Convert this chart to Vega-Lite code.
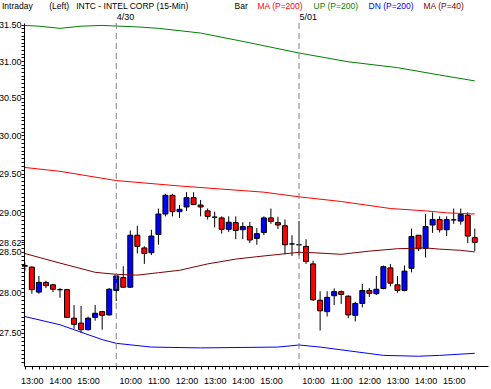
{
  "$schema": "https://vega.github.io/schema/vega-lite/v6.json",
  "width": 464,
  "height": 343,
  "autosize": "none",
  "padding": {"left": 24, "top": 23, "right": 3, "bottom": 23},
  "background": "white",
  "view": {"stroke": null},
  "config": {
    "font": "Liberation Sans",
    "axis": {"labelFont": "Liberation Sans", "labelFontSize": 9, "labelColor": "black", "domainColor": "black", "tickColor": "black", "grid": false}
  },
  "title": {
    "text": "Intraday\u00a0\u00a0\u00a0\u00a0\u00a0\u00a0\u00a0(Left)\u00a0\u00a0\u00a0INTC - INTEL CORP\u00a0(15-Min)",
    "anchor": "start", "frame": "group", "dx": -22, "fontSize": 8.5, "fontWeight": "normal", "font": "Liberation Sans", "color": "black", "offset": -8
  },
  "datasets": {
    "candles": [
      {"t": "04-29 12:45", "open": 28.33, "high": 28.36, "low": 28.26, "close": 28.32},
      {"t": "04-29 13:00", "open": 28.31, "high": 28.32, "low": 27.98, "close": 28.03},
      {"t": "04-29 13:15", "open": 28.00, "high": 28.20, "low": 27.98, "close": 28.12},
      {"t": "04-29 13:30", "open": 28.12, "high": 28.14, "low": 28.05, "close": 28.08},
      {"t": "04-29 13:45", "open": 28.09, "high": 28.10, "low": 28.00, "close": 28.035},
      {"t": "04-29 14:00", "open": 28.03, "high": 28.05, "low": 27.93, "close": 28.03},
      {"t": "04-29 14:15", "open": 28.03, "high": 28.04, "low": 27.69, "close": 27.69},
      {"t": "04-29 14:30", "open": 27.68, "high": 27.84, "low": 27.55, "close": 27.605},
      {"t": "04-29 14:45", "open": 27.62, "high": 27.83, "low": 27.50, "close": 27.54},
      {"t": "04-29 15:00", "open": 27.54, "high": 27.70, "low": 27.53, "close": 27.68},
      {"t": "04-29 15:15", "open": 27.69, "high": 27.84, "low": 27.65, "close": 27.74},
      {"t": "04-29 15:30", "open": 27.76, "high": 27.76, "low": 27.54, "close": 27.715},
      {"t": "04-29 15:45", "open": 27.72, "high": 28.05, "low": 27.71, "close": 28.035},
      {"t": "04-30 09:30", "open": 28.02, "high": 28.21, "low": 27.89, "close": 28.20},
      {"t": "04-30 09:45", "open": 28.18, "high": 28.32, "low": 28.05, "close": 28.06},
      {"t": "04-30 10:00", "open": 28.06, "high": 28.77, "low": 28.05, "close": 28.71},
      {"t": "04-30 10:15", "open": 28.71, "high": 28.83, "low": 28.48, "close": 28.57},
      {"t": "04-30 10:30", "open": 28.55, "high": 28.57, "low": 28.35, "close": 28.48},
      {"t": "04-30 10:45", "open": 28.49, "high": 28.78, "low": 28.46, "close": 28.70},
      {"t": "04-30 11:00", "open": 28.72, "high": 29.05, "low": 28.59, "close": 28.98},
      {"t": "04-30 11:15", "open": 28.98, "high": 29.24, "low": 28.95, "close": 29.22},
      {"t": "04-30 11:30", "open": 29.22, "high": 29.24, "low": 28.95, "close": 29.01},
      {"t": "04-30 11:45", "open": 29.01, "high": 29.095, "low": 28.93, "close": 29.04},
      {"t": "04-30 12:00", "open": 29.07, "high": 29.26, "low": 29.02, "close": 29.19},
      {"t": "04-30 12:15", "open": 29.19, "high": 29.26, "low": 29.095, "close": 29.10},
      {"t": "04-30 12:30", "open": 29.095, "high": 29.16, "low": 28.95, "close": 29.07},
      {"t": "04-30 12:45", "open": 29.02, "high": 29.05, "low": 28.91, "close": 28.95},
      {"t": "04-30 13:00", "open": 28.94, "high": 29.01, "low": 28.81, "close": 28.94},
      {"t": "04-30 13:15", "open": 28.93, "high": 28.95, "low": 28.73, "close": 28.785},
      {"t": "04-30 13:30", "open": 28.785, "high": 28.95, "low": 28.75, "close": 28.875},
      {"t": "04-30 13:45", "open": 28.87, "high": 28.95, "low": 28.66, "close": 28.77},
      {"t": "04-30 14:00", "open": 28.78, "high": 28.875, "low": 28.66, "close": 28.82},
      {"t": "04-30 14:15", "open": 28.82, "high": 28.88, "low": 28.61, "close": 28.65},
      {"t": "04-30 14:30", "open": 28.67, "high": 28.80, "low": 28.59, "close": 28.73},
      {"t": "04-30 14:45", "open": 28.745, "high": 28.95, "low": 28.71, "close": 28.93},
      {"t": "04-30 15:00", "open": 28.93, "high": 29.05, "low": 28.855, "close": 28.885},
      {"t": "04-30 15:15", "open": 28.87, "high": 28.945, "low": 28.79, "close": 28.84},
      {"t": "04-30 15:30", "open": 28.83, "high": 28.91, "low": 28.47, "close": 28.59},
      {"t": "04-30 15:45", "open": 28.60, "high": 28.71, "low": 28.45, "close": 28.60},
      {"t": "05-01 09:30", "open": 28.59, "high": 28.89, "low": 28.455, "close": 28.59},
      {"t": "05-01 09:45", "open": 28.57, "high": 28.66, "low": 28.35, "close": 28.38},
      {"t": "05-01 10:00", "open": 28.35, "high": 28.39, "low": 27.89, "close": 27.905},
      {"t": "05-01 10:15", "open": 27.90, "high": 28.01, "low": 27.53, "close": 27.77},
      {"t": "05-01 10:30", "open": 27.76, "high": 28.01, "low": 27.70, "close": 27.935},
      {"t": "05-01 10:45", "open": 27.955, "high": 28.045, "low": 27.84, "close": 28.005},
      {"t": "05-01 11:00", "open": 28.005, "high": 28.02, "low": 27.855, "close": 27.97},
      {"t": "05-01 11:15", "open": 27.95, "high": 27.96, "low": 27.68, "close": 27.72},
      {"t": "05-01 11:30", "open": 27.715, "high": 27.88, "low": 27.64, "close": 27.86},
      {"t": "05-01 11:45", "open": 27.86, "high": 28.10, "low": 27.81, "close": 28.02},
      {"t": "05-01 12:00", "open": 28.02, "high": 28.05, "low": 27.94, "close": 27.985},
      {"t": "05-01 12:15", "open": 27.98, "high": 28.20, "low": 27.965, "close": 28.035},
      {"t": "05-01 12:30", "open": 28.045, "high": 28.33, "low": 28.035, "close": 28.315},
      {"t": "05-01 12:45", "open": 28.30, "high": 28.35, "low": 28.07, "close": 28.11},
      {"t": "05-01 13:00", "open": 28.09, "high": 28.20, "low": 27.99, "close": 28.02},
      {"t": "05-01 13:15", "open": 28.02, "high": 28.33, "low": 28.01, "close": 28.26},
      {"t": "05-01 13:30", "open": 28.295, "high": 28.795, "low": 28.245, "close": 28.695},
      {"t": "05-01 13:45", "open": 28.71, "high": 28.71, "low": 28.51, "close": 28.54},
      {"t": "05-01 14:00", "open": 28.545, "high": 28.98, "low": 28.43, "close": 28.82},
      {"t": "05-01 14:15", "open": 28.84, "high": 29.00, "low": 28.74, "close": 28.91},
      {"t": "05-01 14:30", "open": 28.91, "high": 28.95, "low": 28.745, "close": 28.78},
      {"t": "05-01 14:45", "open": 28.78, "high": 28.95, "low": 28.70, "close": 28.91},
      {"t": "05-01 15:00", "open": 28.905, "high": 29.05, "low": 28.855, "close": 28.905},
      {"t": "05-01 15:15", "open": 28.89, "high": 29.05, "low": 28.845, "close": 28.975},
      {"t": "05-01 15:30", "open": 28.965, "high": 29.00, "low": 28.61, "close": 28.70},
      {"t": "05-01 15:45", "open": 28.68, "high": 28.795, "low": 28.51, "close": 28.62}
    ],
    "lines": [
      {"series": "MA (P=200)", "t": "04-29 12:45", "v": 29.58},
      {"series": "MA (P=200)", "t": "04-29 14:00", "v": 29.53},
      {"series": "MA (P=200)", "t": "04-30 09:30", "v": 29.41},
      {"series": "MA (P=200)", "t": "04-30 11:45", "v": 29.34},
      {"series": "MA (P=200)", "t": "04-30 14:45", "v": 29.26},
      {"series": "MA (P=200)", "t": "05-01 09:30", "v": 29.20},
      {"series": "MA (P=200)", "t": "05-01 11:00", "v": 29.14},
      {"series": "MA (P=200)", "t": "05-01 12:45", "v": 29.05},
      {"series": "MA (P=200)", "t": "05-01 14:00", "v": 29.02},
      {"series": "MA (P=200)", "t": "05-01 14:45", "v": 28.995},
      {"series": "MA (P=200)", "t": "05-01 15:45", "v": 28.98},
      {"series": "UP (P=200)", "t": "04-29 12:45", "v": 31.49},
      {"series": "UP (P=200)", "t": "04-29 13:15", "v": 31.48},
      {"series": "UP (P=200)", "t": "04-29 14:00", "v": 31.45},
      {"series": "UP (P=200)", "t": "04-29 14:45", "v": 31.48},
      {"series": "UP (P=200)", "t": "04-29 15:30", "v": 31.49},
      {"series": "UP (P=200)", "t": "04-30 10:15", "v": 31.47},
      {"series": "UP (P=200)", "t": "04-30 11:00", "v": 31.45},
      {"series": "UP (P=200)", "t": "04-30 12:30", "v": 31.385},
      {"series": "UP (P=200)", "t": "04-30 14:15", "v": 31.25},
      {"series": "UP (P=200)", "t": "05-01 09:30", "v": 31.11},
      {"series": "UP (P=200)", "t": "05-01 11:15", "v": 30.99},
      {"series": "UP (P=200)", "t": "05-01 13:00", "v": 30.91},
      {"series": "UP (P=200)", "t": "05-01 14:30", "v": 30.81},
      {"series": "UP (P=200)", "t": "05-01 15:45", "v": 30.73},
      {"series": "DN (P=200)", "t": "04-29 12:45", "v": 27.70},
      {"series": "DN (P=200)", "t": "04-29 14:00", "v": 27.60},
      {"series": "DN (P=200)", "t": "04-29 15:00", "v": 27.48},
      {"series": "DN (P=200)", "t": "04-29 15:30", "v": 27.42},
      {"series": "DN (P=200)", "t": "04-30 09:30", "v": 27.375},
      {"series": "DN (P=200)", "t": "04-30 10:45", "v": 27.33},
      {"series": "DN (P=200)", "t": "04-30 12:30", "v": 27.32},
      {"series": "DN (P=200)", "t": "04-30 15:15", "v": 27.33},
      {"series": "DN (P=200)", "t": "05-01 09:30", "v": 27.355},
      {"series": "DN (P=200)", "t": "05-01 10:15", "v": 27.33},
      {"series": "DN (P=200)", "t": "05-01 12:30", "v": 27.23},
      {"series": "DN (P=200)", "t": "05-01 13:45", "v": 27.22},
      {"series": "DN (P=200)", "t": "05-01 14:30", "v": 27.23},
      {"series": "DN (P=200)", "t": "05-01 15:45", "v": 27.255},
      {"series": "MA (P=40)", "t": "04-29 12:45", "v": 28.48},
      {"series": "MA (P=40)", "t": "04-29 14:00", "v": 28.36},
      {"series": "MA (P=40)", "t": "04-29 15:15", "v": 28.245},
      {"series": "MA (P=40)", "t": "04-30 09:30", "v": 28.22},
      {"series": "MA (P=40)", "t": "04-30 10:15", "v": 28.21},
      {"series": "MA (P=40)", "t": "04-30 11:00", "v": 28.24},
      {"series": "MA (P=40)", "t": "04-30 11:45", "v": 28.27},
      {"series": "MA (P=40)", "t": "04-30 12:45", "v": 28.35},
      {"series": "MA (P=40)", "t": "04-30 13:45", "v": 28.41},
      {"series": "MA (P=40)", "t": "04-30 14:30", "v": 28.44},
      {"series": "MA (P=40)", "t": "05-01 09:30", "v": 28.495},
      {"series": "MA (P=40)", "t": "05-01 10:00", "v": 28.49},
      {"series": "MA (P=40)", "t": "05-01 11:00", "v": 28.47},
      {"series": "MA (P=40)", "t": "05-01 12:00", "v": 28.51},
      {"series": "MA (P=40)", "t": "05-01 13:00", "v": 28.54},
      {"series": "MA (P=40)", "t": "05-01 14:00", "v": 28.55},
      {"series": "MA (P=40)", "t": "05-01 14:30", "v": 28.535},
      {"series": "MA (P=40)", "t": "05-01 15:15", "v": 28.52},
      {"series": "MA (P=40)", "t": "05-01 15:45", "v": 28.50}
    ]
  },
  "resolve": {"axis": {"x": "independent"}},
  "layer": [
    {
      "data": {"name": "candles"},
      "mark": {"type": "rule", "color": "black", "strokeWidth": 1},
      "encoding": {
        "x": {
          "field": "t", "type": "ordinal",
          "scale": {"type": "point", "padding": 1.12, "align": 0.06},
          "axis": {"title": null, "labelExpr": "slice(datum.value, -2) == '00' ? slice(datum.value, -5) : ''", "labelAngle": 0, "labelOverlap": false, "tickSize": 3, "labelPadding": 7, "labelAlign": "center"}
        },
        "y": {
          "field": "low", "type": "quantitative", "title": null,
          "scale": {"type": "log", "domain": [27.103, 31.524], "nice": false, "zero": false},
          "axis": {
            "title": null,
            "values": [27.15,27.2,27.25,27.3,27.35,27.4,27.45,27.5,27.55,27.6,27.65,27.7,27.75,27.8,27.85,27.9,27.95,28,28.05,28.1,28.15,28.2,28.25,28.3,28.35,28.4,28.45,28.5,28.55,28.6,28.62,28.65,28.7,28.75,28.8,28.85,28.9,28.95,29,29.05,29.1,29.15,29.2,29.25,29.3,29.35,29.4,29.45,29.5,29.55,29.6,29.65,29.7,29.75,29.8,29.85,29.9,29.95,30,30.05,30.1,30.15,30.2,30.25,30.3,30.35,30.4,30.45,30.5,30.55,30.6,30.65,30.7,30.75,30.8,30.85,30.9,30.95,31,31.05,31.1,31.15,31.2,31.25,31.3,31.35,31.4,31.45,31.5],
            "labelExpr": "(abs(datum.value*2 - round(datum.value*2)) < 0.001 || abs(datum.value - 28.62) < 0.001) ? format(datum.value, '.2f') : ''",
            "labelOverlap": false, "tickSize": 3, "labelPadding": 0
          }
        },
        "y2": {"field": "high"}
      }
    },
    {
      "data": {"name": "candles"},
      "mark": {"type": "bar", "size": 5, "stroke": "black", "strokeWidth": 1},
      "encoding": {
        "x": {"field": "t", "type": "ordinal", "axis": null},
        "y": {"field": "open", "type": "quantitative", "title": null},
        "y2": {"field": "close"},
        "fill": {
          "condition": [
            {"test": "datum.close > datum.open", "value": "#0000ff"},
            {"test": "datum.close < datum.open", "value": "#ff0000"}
          ],
          "value": "black"
        }
      }
    },
    {
      "data": {"name": "lines"},
      "mark": {"type": "line", "strokeWidth": 1},
      "encoding": {
        "x": {"field": "t", "type": "ordinal", "axis": null},
        "y": {"field": "v", "type": "quantitative", "title": null},
        "color": {
          "field": "series", "type": "nominal",
          "scale": {"domain": ["Bar", "MA (P=200)", "UP (P=200)", "DN (P=200)", "MA (P=40)"], "range": ["black", "#ff0000", "#008000", "#0000ff", "#800000"]},
          "legend": {
            "orient": "none", "legendX": 212, "legendY": -21, "direction": "horizontal", "title": null,
            "symbolSize": 0, "symbolStrokeWidth": 0, "symbolOpacity": 0, "labelOffset": -10, "columnPadding": 9,
            "labelFontSize": 8.5, "labelFont": "Liberation Sans",
            "encode": {"labels": {"update": {"fill": {"scale": "color", "field": "value"}}}}
          }
        }
      }
    },
    {
      "data": {"name": "candles"},
      "transform": [{"filter": "slice(datum.t, -5) == '09:30'"}],
      "mark": {"type": "rule", "color": "#808080", "strokeDash": [6, 4], "strokeWidth": 1},
      "encoding": {
        "x": {
          "field": "t", "type": "ordinal",
          "axis": {"orient": "top", "title": null, "domain": false, "ticks": false, "values": ["04-30 09:30", "05-01 09:30"], "labelExpr": "replace(slice(datum.value, 1, 5), '-', '/')", "labelAlign": "left", "labelAngle": 0, "labelPadding": 2}
        }
      }
    }
  ]
}
